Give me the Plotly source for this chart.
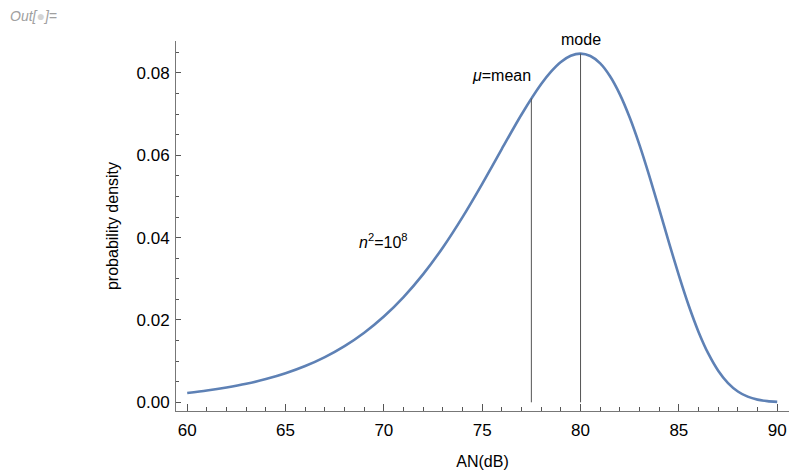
import plotly.graph_objects as go

# Data
an_db = [60, 61, 62, 63, 64, 65, 66, 67, 68, 69, 70, 71, 72, 73, 74, 75, 76, 77, 78,
         78.5, 79, 79.5, 80, 80.5, 81, 81.5, 82, 82.5, 83, 83.5, 84, 84.5, 85, 85.5,
         86, 86.5, 87, 87.5, 88, 88.5, 89, 89.5, 90]
density = [0.00228, 0.00287, 0.00360, 0.00450, 0.00564, 0.00706, 0.00881, 0.01098,
           0.01364, 0.01690, 0.02083, 0.02556, 0.03114, 0.03762, 0.04499, 0.05308,
           0.06157, 0.06991, 0.07730,
           0.08031, 0.08266, 0.08417, 0.08471, 0.08412, 0.08233, 0.07921, 0.07481,
           0.06917, 0.06247, 0.05494, 0.04691, 0.03874, 0.03083, 0.02351,
           0.01711, 0.01181, 0.00768, 0.00468, 0.00264, 0.00137, 0.00065, 0.00028, 0.00011]
marker_x = [77.5, 80.0]        # mean, mode
marker_top = [0.0738, 0.0847]
marker_names = ["<i>μ</i>=mean", "mode"]

fig = go.Figure()
fig.add_trace(go.Scatter(x=an_db, y=density, mode="lines",
                         line=dict(color="#5E81B5", width=2.6, shape="spline", smoothing=0.8),
                         hoverinfo="skip"))
for xv, top in zip(marker_x, marker_top):
    fig.add_trace(go.Scatter(x=[xv, xv], y=[0, top], mode="lines",
                             line=dict(color="#555555", width=1), hoverinfo="skip"))

fam = "Liberation Sans, Arial, sans-serif"
tickfont = dict(family=fam, size=17, color="black")
font = dict(family=fam, size=16, color="black")

fig.add_annotation(x=marker_x[1], y=0.0856, text=marker_names[1], showarrow=False,
                   xanchor="center", yanchor="bottom", font=font)
fig.add_annotation(x=77.6, y=0.0795, text=marker_names[0], showarrow=False,
                   xanchor="right", yanchor="middle", font=font)
fig.add_annotation(x=70.0, y=0.0392, text="<i>n</i><sup>2</sup>=10<sup>8</sup>", showarrow=False,
                   xanchor="center", yanchor="middle", font=font)
fig.add_annotation(xref="paper", yref="paper", x=-0.274, y=1.068,
                   text="<i>Out[<span style='color:#d4d4d4'>●</span>]=</i>",
                   showarrow=False, xanchor="left", yanchor="middle",
                   font=dict(family=fam, size=14, color="#a0a0a0"))

fig.update_layout(
    width=791, height=472,
    margin=dict(l=176, r=2, t=41, b=61),
    paper_bgcolor="white", plot_bgcolor="white",
    showlegend=False,
    font=font,
    xaxis=dict(range=[59.43, 90.6], tickvals=[60, 65, 70, 75, 80, 85, 90],
               ticks="inside", ticklen=7, tickcolor="#555", tickwidth=1,
               minor=dict(dtick=1, ticks="inside", ticklen=4, tickcolor="#555", tickwidth=1, showgrid=False),
               showline=True, linecolor="#777", linewidth=1, showgrid=False, zeroline=False,
               tickfont=tickfont, ticklabelstandoff=4,
               title=dict(text="AN(dB)", font=font, standoff=16)),
    yaxis=dict(range=[-0.00211, 0.08777], tickvals=[0, 0.02, 0.04, 0.06, 0.08], tickformat=".2f",
               ticks="inside", ticklen=5, tickcolor="#555", tickwidth=1,
               minor=dict(dtick=0.005, tick0=0, ticks="inside", ticklen=3, tickcolor="#555", tickwidth=1, showgrid=False),
               showline=True, linecolor="#777", linewidth=1, showgrid=False, zeroline=False,
               tickfont=tickfont, ticklabelstandoff=2,
               title=dict(text="probability density", font=font, standoff=13)),
)

fig.write_html("out.html")
